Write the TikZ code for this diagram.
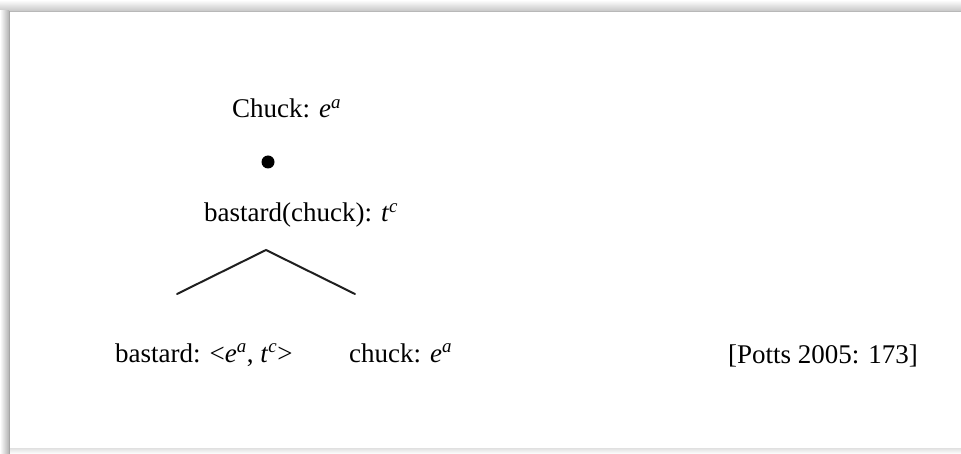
\documentclass[tikz,border=0pt]{standalone}
\usepackage{fontspec}
\setmainfont{Liberation Serif}
\begin{document}
\begin{tikzpicture}[x=1pt, y=-1pt,
  lbl/.style={inner sep=0pt, anchor=base west, font=\fontsize{27}{30}\selectfont},
  branch/.style={line width=2pt, draw=black!88, line cap=round}]
\useasboundingbox (0,0) rectangle (961,454);
% page frame with soft shadow
\fill[white] (0,0) rectangle (961,454);
\shade[top color=white, bottom color=black!22] (0,0) rectangle (961,11);
\shade[left color=white, right color=black!30] (0,11) rectangle (9,454);
\draw[black!28, line width=1.2pt] (9,11.5) -- (961,11.5);
\draw[black!35, line width=1.2pt] (9.5,11.5) -- (9.5,454);
\shade[top color=black!12, bottom color=white] (10,448) rectangle (961,454);
% tree
\node[lbl] (top) at (232,118) {Chuck: \textit{e}\textsuperscript{\textit{a}}};
\node[circle, fill=black, inner sep=0pt, minimum size=13pt] (dot) at (268,162) {};
\node[lbl] (mid) at (204,222) {bastard(chuck): \textit{t}\textsuperscript{\textit{c}}};
\coordinate (apex) at (266,250);
\coordinate (lend) at (177,294);
\coordinate (rend) at (355,294);
\draw[branch] (lend) -- (apex) -- (rend);
\node[lbl] (left) at (115,362) {bastard: <\textit{e}\textsuperscript{\textit{a}}, \textit{t}\textsuperscript{\textit{c}}>};
\node[lbl] (right) at (349,362) {chuck: \textit{e}\textsuperscript{\textit{a}}};
\node[lbl] (cite) at (728,363) {[Potts 2005: 173]};
\end{tikzpicture}
\end{document}
